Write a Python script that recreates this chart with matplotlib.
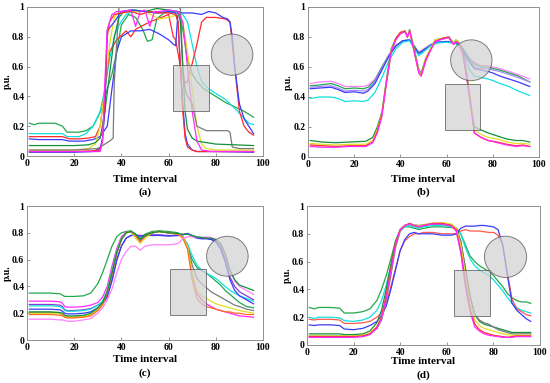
import numpy as np
import matplotlib
matplotlib.use('Agg')
import matplotlib.pyplot as plt
from matplotlib.patches import Ellipse, Rectangle

plt.rcParams['font.family'] = ['Liberation Serif', 'DejaVu Serif']
plt.rcParams['font.weight'] = 'bold'

# ---------------- panel (a) ----------------
a_green_x = [1, 3, 5, 12, 15, 17, 22, 25, 28, 30, 32, 34, 36, 38, 40, 43, 46, 49, 51, 53, 55, 58, 62, 64, 65, 66, 68, 70, 72, 75, 78, 80, 84, 88, 92, 96]
a_green_y = [0.22, 0.21, 0.22, 0.22, 0.2, 0.16, 0.16, 0.17, 0.2, 0.26, 0.33, 0.45, 0.55, 0.7, 0.88, 0.95, 0.93, 0.85, 0.77, 0.78, 0.92, 0.96, 0.97, 0.96, 0.94, 0.85, 0.65, 0.55, 0.5, 0.45, 0.42, 0.4, 0.36, 0.33, 0.3, 0.26]
a_cyan_x = [1, 5, 15, 17, 22, 25, 28, 31, 33, 35, 37, 39, 42, 46, 50, 55, 60, 64, 66, 68, 70, 72, 74, 77, 80, 84, 88, 91, 94, 96]
a_cyan_y = [0.15, 0.15, 0.15, 0.13, 0.13, 0.15, 0.2, 0.3, 0.45, 0.65, 0.8, 0.88, 0.95, 0.98, 0.97, 0.96, 0.97, 0.96, 0.95, 0.9, 0.75, 0.6, 0.5, 0.45, 0.42, 0.38, 0.32, 0.27, 0.22, 0.21]
a_red_x = [1, 5, 15, 18, 22, 26, 29, 31, 33, 35, 38, 42, 44, 46, 52, 57, 60, 62, 63, 65, 67, 68, 69, 70, 72, 74, 76, 80, 84, 86, 88, 90, 92, 94, 96]
a_red_y = [0.13, 0.13, 0.13, 0.115, 0.115, 0.12, 0.13, 0.2, 0.45, 0.7, 0.78, 0.84, 0.8, 0.85, 0.9, 0.93, 0.95, 0.8, 0.78, 0.6, 0.49, 0.5, 0.58, 0.62, 0.75, 0.9, 0.93, 0.93, 0.92, 0.9, 0.6, 0.3, 0.2, 0.16, 0.14]
a_blue_x = [1, 5, 15, 18, 24, 28, 31, 34, 36, 38, 40, 44, 48, 52, 56, 60, 62, 63, 64, 66, 70, 74, 77, 80, 83, 85, 86, 87, 88, 90, 92, 94, 96]
a_blue_y = [0.115, 0.11, 0.11, 0.1, 0.1, 0.11, 0.13, 0.2, 0.45, 0.7, 0.8, 0.84, 0.84, 0.85, 0.82, 0.78, 0.75, 0.74, 0.97, 0.96, 0.96, 0.95, 0.97, 0.96, 0.93, 0.92, 0.9, 0.8, 0.6, 0.35, 0.25, 0.2, 0.15]
a_mag_x = [1, 20, 28, 31, 32, 33, 34, 36, 38, 40, 44, 46, 48, 50, 52, 54, 56, 60, 64, 66, 68, 70, 72, 74, 78, 96]
a_mag_y = [0.03, 0.03, 0.03, 0.03, 0.1, 0.5, 0.85, 0.95, 0.97, 0.97, 0.98, 0.87, 0.97, 0.98, 0.87, 0.97, 0.97, 0.98, 0.97, 0.9, 0.6, 0.3, 0.1, 0.04, 0.03, 0.03]
a_yel_x = [1, 20, 26, 29, 31, 33, 35, 37, 39, 42, 50, 56, 60, 64, 66, 68, 70, 72, 74, 76, 80, 96]
a_yel_y = [0.04, 0.04, 0.05, 0.08, 0.2, 0.45, 0.75, 0.93, 0.97, 0.97, 0.97, 0.92, 0.93, 0.95, 0.9, 0.7, 0.45, 0.2, 0.08, 0.05, 0.04, 0.04]
a_gray_x = [1, 20, 30, 35, 36.5, 37, 39, 40, 50, 60, 64, 65, 66, 67, 68, 70, 72, 76, 85, 86, 87, 90, 96]
a_gray_y = [0.04, 0.04, 0.05, 0.1, 0.12, 0.5, 1.0, 1.0, 1.0, 1.0, 1.0, 0.99, 0.6, 0.45, 0.4, 0.35, 0.2, 0.17, 0.17, 0.16, 0.06, 0.05, 0.05]
a_dgreen_x = [1, 20, 26, 29, 31, 33, 35, 37, 39, 41, 45, 50, 55, 60, 64, 65, 66, 67, 68, 70, 72, 76, 80, 88, 96]
a_dgreen_y = [0.07, 0.07, 0.075, 0.09, 0.12, 0.3, 0.55, 0.8, 0.93, 0.97, 0.98, 0.97, 0.99, 0.98, 0.97, 0.9, 0.6, 0.3, 0.18, 0.12, 0.1, 0.09, 0.08, 0.075, 0.07]
a_red2_x = [1, 20, 28, 31, 32, 33, 34, 35, 37, 40, 44, 48, 52, 56, 60, 63, 64, 65, 66, 67, 68, 70, 72, 80, 96]
a_red2_y = [0.03, 0.03, 0.035, 0.04, 0.1, 0.4, 0.8, 0.9, 0.95, 0.96, 0.97, 0.95, 0.97, 0.96, 0.96, 0.95, 0.9, 0.6, 0.3, 0.12, 0.06, 0.04, 0.03, 0.03, 0.03]
a_blue2_x = [1, 20, 28, 31, 32, 33, 34, 35, 37, 40, 44, 50, 55, 60, 63, 64, 65, 66, 67, 68, 70, 72, 80, 96]
a_blue2_y = [0.025, 0.025, 0.03, 0.05, 0.12, 0.3, 0.84, 0.86, 0.9, 0.97, 0.98, 0.97, 0.96, 0.97, 0.96, 0.9, 0.6, 0.35, 0.15, 0.08, 0.04, 0.03, 0.03, 0.025]

# ---------------- panel (b) ----------------
b_up_x = [1, 5, 10, 13, 16, 20, 24, 26, 29, 32, 35, 38, 41, 44, 46, 48, 50, 53, 56, 60, 64, 66, 68, 70, 72, 75, 78, 80, 83, 87, 91, 96]
b_mag_y = [0.49, 0.5, 0.505, 0.49, 0.47, 0.47, 0.47, 0.48, 0.52, 0.6, 0.68, 0.74, 0.775, 0.78, 0.74, 0.7, 0.72, 0.75, 0.765, 0.77, 0.76, 0.75, 0.7, 0.66, 0.63, 0.61, 0.61, 0.6, 0.59, 0.57, 0.55, 0.52]
b_green_y = [0.475, 0.48, 0.49, 0.475, 0.455, 0.46, 0.455, 0.465, 0.51, 0.6, 0.68, 0.74, 0.775, 0.78, 0.74, 0.695, 0.715, 0.745, 0.765, 0.77, 0.76, 0.75, 0.7, 0.65, 0.62, 0.6, 0.6, 0.59, 0.58, 0.56, 0.54, 0.5]
b_lav_y = [0.465, 0.47, 0.475, 0.46, 0.44, 0.445, 0.44, 0.45, 0.5, 0.59, 0.68, 0.74, 0.775, 0.78, 0.73, 0.69, 0.71, 0.745, 0.765, 0.77, 0.76, 0.745, 0.69, 0.64, 0.6, 0.59, 0.59, 0.58, 0.57, 0.55, 0.53, 0.5]
b_blue_y = [0.455, 0.46, 0.465, 0.45, 0.43, 0.435, 0.425, 0.44, 0.49, 0.58, 0.67, 0.74, 0.775, 0.78, 0.73, 0.69, 0.71, 0.745, 0.765, 0.77, 0.76, 0.74, 0.68, 0.63, 0.59, 0.58, 0.57, 0.56, 0.54, 0.52, 0.5, 0.47]
b_cyan_y = [0.39, 0.4, 0.4, 0.39, 0.37, 0.375, 0.37, 0.38, 0.43, 0.53, 0.64, 0.72, 0.765, 0.775, 0.72, 0.675, 0.7, 0.74, 0.76, 0.765, 0.755, 0.73, 0.66, 0.58, 0.54, 0.53, 0.52, 0.51, 0.49, 0.47, 0.44, 0.41]

b_low_x = [1, 6, 12, 18, 25, 28, 30, 32, 34, 36, 38, 40, 42, 43, 44, 46, 48, 49, 51, 53, 55, 58, 61, 63, 64, 65, 67, 69, 71, 72, 75, 78, 82, 86, 90, 93, 96]
b_lgreen_y = [0.11, 0.1, 0.095, 0.1, 0.105, 0.13, 0.2, 0.3, 0.52, 0.72, 0.79, 0.83, 0.84, 0.8, 0.85, 0.72, 0.58, 0.56, 0.66, 0.72, 0.78, 0.79, 0.8, 0.76, 0.78, 0.77, 0.71, 0.53, 0.3, 0.2, 0.18, 0.16, 0.14, 0.12, 0.11, 0.11, 0.1]
b_lyel_y = [0.09, 0.085, 0.08, 0.085, 0.085, 0.11, 0.18, 0.29, 0.5, 0.71, 0.79, 0.83, 0.84, 0.8, 0.845, 0.71, 0.57, 0.55, 0.66, 0.72, 0.78, 0.79, 0.8, 0.76, 0.78, 0.77, 0.7, 0.52, 0.3, 0.18, 0.15, 0.13, 0.12, 0.1, 0.09, 0.09, 0.085]
b_lred_y = [0.08, 0.075, 0.07, 0.075, 0.075, 0.1, 0.17, 0.28, 0.5, 0.7, 0.79, 0.83, 0.84, 0.8, 0.84, 0.7, 0.56, 0.54, 0.65, 0.71, 0.77, 0.79, 0.8, 0.75, 0.77, 0.76, 0.69, 0.5, 0.28, 0.16, 0.13, 0.11, 0.1, 0.085, 0.075, 0.08, 0.07]
b_lmag_y = [0.07, 0.065, 0.065, 0.07, 0.07, 0.095, 0.16, 0.27, 0.5, 0.7, 0.78, 0.82, 0.835, 0.8, 0.84, 0.7, 0.56, 0.54, 0.64, 0.71, 0.77, 0.785, 0.795, 0.75, 0.77, 0.76, 0.69, 0.5, 0.28, 0.16, 0.13, 0.11, 0.095, 0.08, 0.07, 0.075, 0.07]

# ---------------- panel (c) ----------------
c_x = [1, 5, 10, 14, 15, 16, 17, 20, 24, 27, 30, 32, 34, 36, 38, 40, 42, 44, 46, 48, 50, 53, 56, 60, 64, 66, 68, 70, 72, 74, 76, 78, 80, 82, 84, 86, 88, 90, 93, 96]
c_green_y = [0.35, 0.35, 0.35, 0.345, 0.335, 0.325, 0.325, 0.325, 0.33, 0.35, 0.42, 0.5, 0.6, 0.7, 0.77, 0.8, 0.81, 0.815, 0.79, 0.76, 0.79, 0.81, 0.815, 0.81, 0.8, 0.77, 0.7, 0.6, 0.54, 0.52, 0.5, 0.47, 0.44, 0.41, 0.37, 0.34, 0.31, 0.28, 0.25, 0.24]
c_pink_y = [0.29, 0.29, 0.29, 0.285, 0.275, 0.25, 0.245, 0.245, 0.25, 0.26, 0.28, 0.32, 0.4, 0.55, 0.68, 0.77, 0.805, 0.81, 0.78, 0.73, 0.77, 0.8, 0.81, 0.8, 0.79, 0.77, 0.7, 0.5, 0.35, 0.3, 0.27, 0.25, 0.23, 0.22, 0.21, 0.2, 0.19, 0.18, 0.175, 0.17]
c_purple_y = [0.265, 0.265, 0.265, 0.26, 0.25, 0.225, 0.22, 0.22, 0.225, 0.235, 0.26, 0.28, 0.33, 0.45, 0.6, 0.7, 0.76, 0.78, 0.785, 0.78, 0.78, 0.785, 0.785, 0.78, 0.78, 0.785, 0.795, 0.78, 0.765, 0.76, 0.76, 0.755, 0.74, 0.7, 0.6, 0.47, 0.4, 0.36, 0.33, 0.3]
c_cyan_y = [0.255, 0.255, 0.255, 0.25, 0.24, 0.22, 0.215, 0.215, 0.22, 0.23, 0.26, 0.29, 0.37, 0.52, 0.66, 0.76, 0.8, 0.81, 0.79, 0.75, 0.78, 0.8, 0.81, 0.8, 0.79, 0.77, 0.72, 0.63, 0.56, 0.52, 0.5, 0.48, 0.46, 0.43, 0.4, 0.37, 0.35, 0.33, 0.31, 0.29]
c_blue_y = [0.23, 0.23, 0.23, 0.225, 0.215, 0.2, 0.195, 0.195, 0.2, 0.21, 0.24, 0.27, 0.32, 0.44, 0.59, 0.7, 0.76, 0.78, 0.78, 0.775, 0.78, 0.78, 0.78, 0.775, 0.78, 0.785, 0.795, 0.775, 0.76, 0.755, 0.755, 0.75, 0.73, 0.68, 0.58, 0.45, 0.37, 0.33, 0.3, 0.27]
c_gray_y = [0.205, 0.205, 0.205, 0.2, 0.19, 0.175, 0.17, 0.17, 0.175, 0.19, 0.23, 0.27, 0.36, 0.5, 0.65, 0.75, 0.8, 0.81, 0.78, 0.74, 0.78, 0.8, 0.81, 0.8, 0.79, 0.77, 0.7, 0.56, 0.46, 0.42, 0.39, 0.36, 0.34, 0.32, 0.3, 0.28, 0.26, 0.25, 0.23, 0.22]
c_yel_y = [0.2, 0.2, 0.2, 0.195, 0.185, 0.175, 0.17, 0.17, 0.175, 0.19, 0.23, 0.27, 0.36, 0.5, 0.65, 0.75, 0.8, 0.81, 0.76, 0.72, 0.76, 0.8, 0.81, 0.8, 0.79, 0.77, 0.7, 0.5, 0.37, 0.33, 0.31, 0.29, 0.27, 0.26, 0.25, 0.24, 0.23, 0.22, 0.21, 0.2]
c_orange_y = [0.19, 0.19, 0.19, 0.185, 0.18, 0.17, 0.165, 0.165, 0.17, 0.18, 0.22, 0.26, 0.35, 0.49, 0.64, 0.75, 0.8, 0.81, 0.78, 0.74, 0.78, 0.8, 0.81, 0.8, 0.79, 0.76, 0.68, 0.45, 0.31, 0.27, 0.25, 0.24, 0.23, 0.22, 0.21, 0.21, 0.2, 0.2, 0.19, 0.19]
c_lpink_y = [0.155, 0.155, 0.155, 0.15, 0.15, 0.145, 0.14, 0.14, 0.15, 0.16, 0.2, 0.24, 0.3, 0.38, 0.5, 0.6, 0.66, 0.7, 0.7, 0.67, 0.7, 0.71, 0.71, 0.71, 0.72, 0.755, 0.77, 0.77, 0.77, 0.765, 0.77, 0.765, 0.75, 0.72, 0.65, 0.52, 0.44, 0.4, 0.37, 0.34]
c_green2_y = [0.21, 0.21, 0.21, 0.205, 0.2, 0.185, 0.18, 0.18, 0.185, 0.2, 0.24, 0.28, 0.36, 0.5, 0.65, 0.75, 0.8, 0.81, 0.79, 0.75, 0.78, 0.8, 0.81, 0.8, 0.795, 0.79, 0.79, 0.78, 0.77, 0.765, 0.76, 0.76, 0.75, 0.72, 0.64, 0.52, 0.45, 0.41, 0.39, 0.37]

# ---------------- panel (d) ----------------
d_x = [1, 3, 5, 10, 14, 16, 20, 24, 27, 30, 32, 34, 36, 38, 40, 42, 44, 46, 48, 50, 54, 58, 62, 64, 66, 68, 70, 72, 74, 76, 78, 80, 82, 84, 86, 88, 90, 92, 94, 96]
d_green_y = [0.27, 0.26, 0.27, 0.27, 0.265, 0.23, 0.23, 0.24, 0.26, 0.32, 0.4, 0.5, 0.62, 0.75, 0.83, 0.85, 0.85, 0.84, 0.83, 0.84, 0.85, 0.85, 0.845, 0.84, 0.8, 0.72, 0.64, 0.6, 0.57, 0.55, 0.53, 0.5, 0.46, 0.42, 0.37, 0.34, 0.32, 0.31, 0.31, 0.3]
d_cyan_y = [0.2, 0.19, 0.2, 0.2, 0.195, 0.175, 0.17, 0.18, 0.2, 0.25, 0.32, 0.43, 0.57, 0.72, 0.82, 0.85, 0.86, 0.85, 0.84, 0.85, 0.86, 0.86, 0.85, 0.84, 0.8, 0.7, 0.62, 0.57, 0.54, 0.52, 0.5, 0.47, 0.43, 0.39, 0.34, 0.3, 0.27, 0.25, 0.24, 0.23]
d_red_y = [0.185, 0.18, 0.185, 0.185, 0.18, 0.155, 0.155, 0.16, 0.17, 0.2, 0.23, 0.3, 0.42, 0.55, 0.68, 0.75, 0.78, 0.8, 0.8, 0.81, 0.81, 0.8, 0.8, 0.8, 0.82, 0.83, 0.82, 0.82, 0.82, 0.815, 0.81, 0.81, 0.79, 0.72, 0.52, 0.33, 0.26, 0.24, 0.22, 0.21]
d_blue_y = [0.145, 0.14, 0.145, 0.145, 0.14, 0.115, 0.11, 0.12, 0.14, 0.17, 0.21, 0.28, 0.4, 0.54, 0.68, 0.76, 0.8, 0.81, 0.8, 0.8, 0.8, 0.79, 0.79, 0.8, 0.84, 0.855, 0.855, 0.855, 0.86, 0.86, 0.855, 0.85, 0.83, 0.72, 0.5, 0.3, 0.25, 0.22, 0.19, 0.17]
d_dgreen_y = [0.08, 0.08, 0.08, 0.08, 0.08, 0.075, 0.075, 0.08, 0.1, 0.16, 0.25, 0.4, 0.58, 0.74, 0.83, 0.86, 0.87, 0.86, 0.85, 0.86, 0.87, 0.87, 0.86, 0.84, 0.75, 0.55, 0.35, 0.22, 0.17, 0.15, 0.14, 0.13, 0.12, 0.11, 0.1, 0.09, 0.09, 0.09, 0.09, 0.09]
d_gray_y = [0.065, 0.065, 0.065, 0.065, 0.065, 0.065, 0.065, 0.07, 0.08, 0.12, 0.18, 0.32, 0.5, 0.7, 0.82, 0.86, 0.87, 0.865, 0.86, 0.865, 0.875, 0.875, 0.865, 0.84, 0.74, 0.55, 0.35, 0.22, 0.18, 0.16, 0.15, 0.13, 0.11, 0.1, 0.09, 0.08, 0.08, 0.08, 0.08, 0.08]
d_yel_y = [0.065, 0.065, 0.065, 0.065, 0.065, 0.065, 0.065, 0.07, 0.085, 0.13, 0.2, 0.35, 0.54, 0.72, 0.83, 0.86, 0.87, 0.865, 0.855, 0.865, 0.875, 0.88, 0.87, 0.84, 0.72, 0.5, 0.3, 0.18, 0.14, 0.12, 0.11, 0.1, 0.09, 0.08, 0.075, 0.07, 0.07, 0.07, 0.07, 0.07]
d_red2_y = [0.06, 0.06, 0.06, 0.06, 0.06, 0.06, 0.06, 0.065, 0.08, 0.13, 0.2, 0.36, 0.55, 0.73, 0.83, 0.86, 0.875, 0.86, 0.85, 0.86, 0.875, 0.875, 0.86, 0.83, 0.68, 0.45, 0.26, 0.15, 0.11, 0.09, 0.08, 0.07, 0.065, 0.06, 0.055, 0.06, 0.065, 0.065, 0.065, 0.065]
d_mag_y = [0.055, 0.055, 0.055, 0.055, 0.055, 0.055, 0.055, 0.06, 0.075, 0.12, 0.19, 0.34, 0.53, 0.72, 0.83, 0.86, 0.87, 0.86, 0.85, 0.86, 0.87, 0.87, 0.855, 0.82, 0.66, 0.42, 0.24, 0.13, 0.1, 0.08, 0.07, 0.065, 0.06, 0.055, 0.055, 0.055, 0.06, 0.06, 0.06, 0.06]

# colours
GREEN = '#22a84a'
DGREEN = '#15903a'
CYAN = '#10e0e0'
RED = '#ff2a2a'
SALMON = '#ff5a4a'
BLUE = '#3a3aff'
MAG = '#ff2aff'
LPINK = '#ff80ff'
YEL = '#e0e020'
GRAY = '#7a7a7a'
PURPLE = '#8a3acc'
LAV = '#a58cff'
ORANGE = '#ff6a20'

panel_a = [(a_green_x, a_green_y, GREEN), (a_cyan_x, a_cyan_y, CYAN), (a_red_x, a_red_y, RED),
           (a_blue_x, a_blue_y, BLUE), (a_yel_x, a_yel_y, YEL), (a_gray_x, a_gray_y, GRAY),
           (a_dgreen_x, a_dgreen_y, DGREEN), (a_blue2_x, a_blue2_y, BLUE), (a_red2_x, a_red2_y, RED),
           (a_mag_x, a_mag_y, MAG)]
panel_b = [(b_up_x, b_mag_y, LPINK), (b_up_x, b_green_y, GREEN), (b_up_x, b_lav_y, LAV),
           (b_up_x, b_blue_y, BLUE), (b_up_x, b_cyan_y, CYAN),
           (b_low_x, b_lgreen_y, DGREEN), (b_low_x, b_lyel_y, YEL), (b_low_x, b_lred_y, RED),
           (b_low_x, b_lmag_y, MAG)]
panel_c = [(c_x, c_green_y, GREEN), (c_x, c_pink_y, MAG), (c_x, c_purple_y, PURPLE),
           (c_x, c_cyan_y, CYAN), (c_x, c_blue_y, BLUE), (c_x, c_gray_y, GRAY),
           (c_x, c_yel_y, YEL), (c_x, c_orange_y, ORANGE), (c_x, c_lpink_y, LPINK),
           (c_x, c_green2_y, DGREEN)]
panel_d = [(d_x, d_green_y, GREEN), (d_x, d_cyan_y, CYAN), (d_x, d_red_y, SALMON),
           (d_x, d_blue_y, BLUE), (d_x, d_dgreen_y, DGREEN), (d_x, d_gray_y, GRAY),
           (d_x, d_yel_y, YEL), (d_x, d_red2_y, RED), (d_x, d_mag_y, MAG)]

# circle (cx, cy, w, h) and rectangle (x0, x1, y0, y1) in data units
shapes = {
    'a': ((86.9, 0.68, 17.6, 0.276), (61.8, 77.2, 0.301, 0.611)),
    'b': ((70.7, 0.645, 17.9, 0.272), (59.2, 74.5, 0.183, 0.489)),
    'c': ((84.9, 0.625, 17.6, 0.298), (60.7, 75.9, 0.186, 0.529)),
    'd': ((85.2, 0.634, 18.1, 0.297), (63.1, 78.7, 0.206, 0.543)),
}

fig = plt.figure(figsize=(5.5, 3.83), dpi=100)
W, H = 550, 383
# axes boxes in pixels: left, right, top, bottom
boxes = {'a': (27, 263, 7, 156), 'b': (308, 539, 7, 157),
         'c': (27, 263, 206, 340), 'd': (307, 540, 206, 345)}
captions = {'a': (145, 192), 'b': (423, 192), 'c': (145, 373), 'd': (423, 375)}
xlab_y = {'a': 180, 'b': 180, 'c': 360, 'd': 362}
panels = {'a': panel_a, 'b': panel_b, 'c': panel_c, 'd': panel_d}

for key in ['a', 'b', 'c', 'd']:
    l, r, t, b = boxes[key]
    ax = fig.add_axes([l / W, 1 - b / H, (r - l) / W, (b - t) / H])
    for xs, ys, col in panels[key]:
        ax.plot(xs, ys, color=col, lw=0.9)
    (cx, cy, cw, ch), (rx0, rx1, ry0, ry1) = shapes[key]
    ax.add_patch(Rectangle((rx0, ry0), rx1 - rx0, ry1 - ry0, facecolor='#d2d2d2',
                           edgecolor='#505050', lw=0.7, alpha=0.72, zorder=5))
    ax.add_patch(Ellipse((cx, cy), cw, ch, facecolor='#d2d2d2', edgecolor='#505050',
                         lw=0.7, alpha=0.72, zorder=5))
    ax.set_xlim(0, 100)
    ax.set_ylim(0, 1)
    ax.set_xticks([0, 20, 40, 60, 80, 100])
    ax.set_yticks([0, 0.2, 0.4, 0.6, 0.8, 1])
    ax.set_yticklabels(['0', '0.2', '0.4', '0.6', '0.8', '1'])
    ax.tick_params(direction='in', length=2.5, width=0.6, labelsize=7, pad=2,
                   colors='#808080', labelcolor='black')
    for lab in ax.get_xticklabels() + ax.get_yticklabels():
        lab.set_fontweight('bold')
    for sp in ax.spines.values():
        sp.set_color('#909090')
        sp.set_linewidth(0.7)
    fig.text((l + r) / 2 / W, 1 - xlab_y[key] / H, 'Time interval', ha='center',
             va='center', fontsize=8, fontweight='bold')
    fig.text((l - 20) / W, 1 - (t + b) / 2 / H, 'p.u.', rotation=90, ha='center',
             va='center', fontsize=7, fontweight='bold')
    fig.text(captions[key][0] / W, 1 - captions[key][1] / H, '(%s)' % key, ha='center',
             va='center', fontsize=8, fontweight='bold')

fig.savefig('out.png', dpi=100)
